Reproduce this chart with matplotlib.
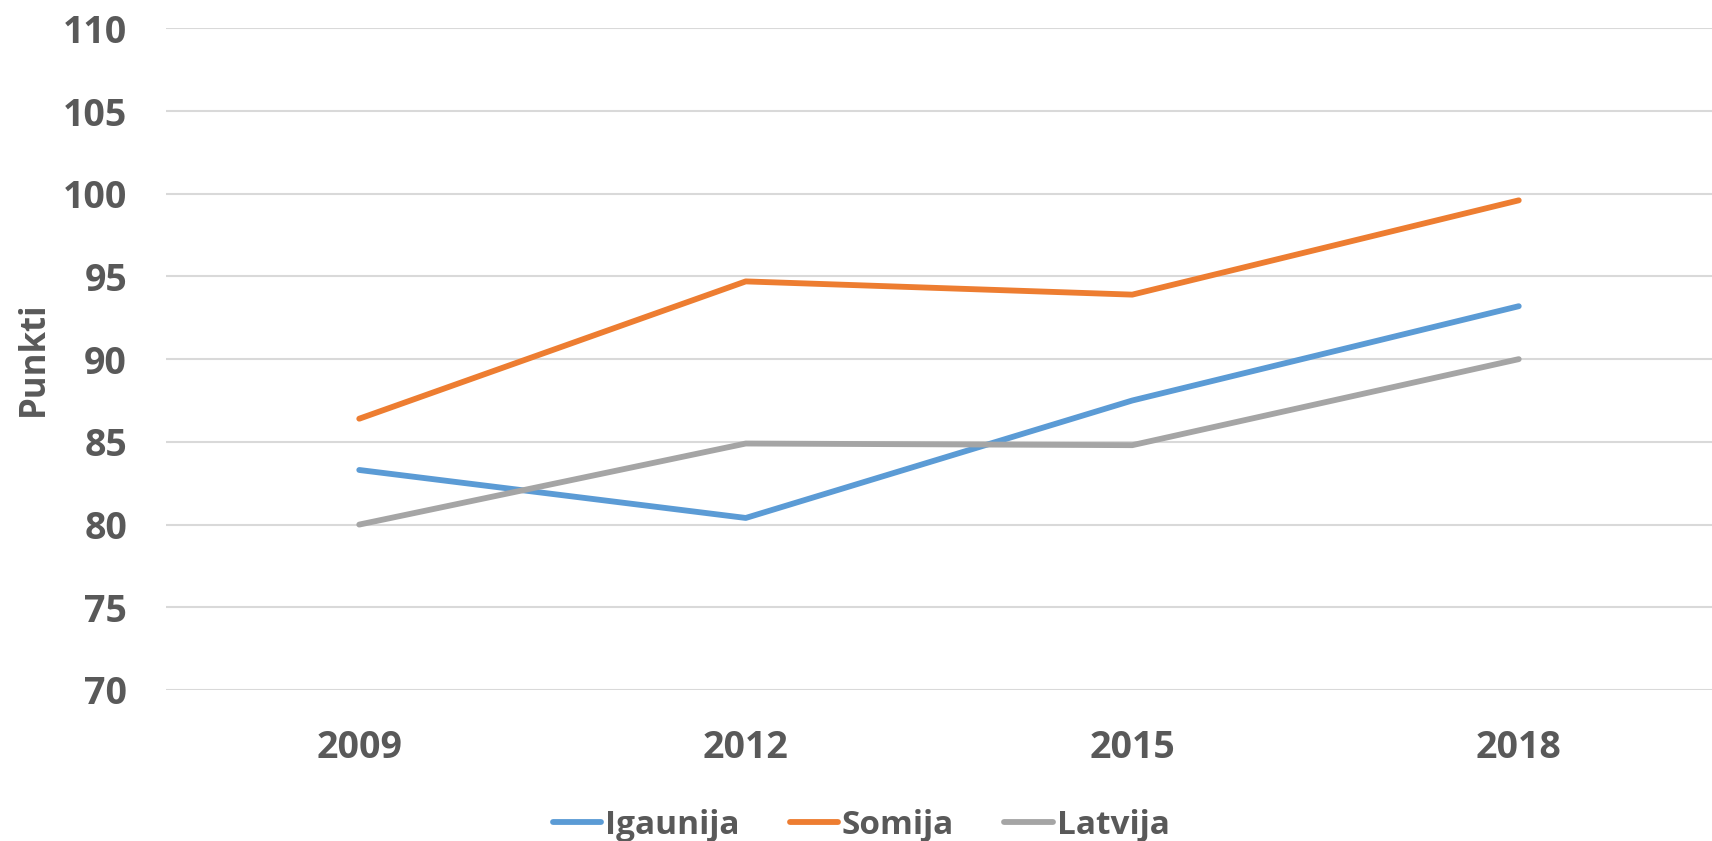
import matplotlib
matplotlib.use("Agg")
import matplotlib.pyplot as plt

years = ["2009", "2012", "2015", "2018"]
igaunija = [83.3, 80.4, 87.5, 93.2]
somija = [86.4, 94.7, 93.9, 99.6]
latvija = [80.0, 84.9, 84.8, 90.0]
series_names = ["Igaunija", "Somija", "Latvija"]
colors = ["#5B9BD5", "#ED7D31", "#A5A5A5"]
yticks = [70, 75, 80, 85, 90, 95, 100, 105, 110]

FONT = ["Open Sans", "DejaVu Sans"]
TXT = "#595959"

fig = plt.figure(figsize=(17.12, 8.41), dpi=100)
ax = fig.add_axes([166 / 1712, 1 - 690 / 841, 1 - 166 / 1712, (690 - 28.3) / 841])

x = list(range(len(years)))
for vals, name, c in zip([igaunija, somija, latvija], series_names, colors):
    ax.plot(x, vals, color=c, lw=4.2, label=name, solid_capstyle="round",
            solid_joinstyle="round", zorder=3)

ax.set_xlim(-0.5, 3.5)
ax.set_ylim(70, 110)
ax.set_yticks(yticks)
ax.set_xticks(x)
ax.set_xticklabels(years)
ax.grid(axis="y", color="#D9D9D9", lw=1.5, zorder=0)
for s in ax.spines.values():
    s.set_visible(False)
ax.tick_params(axis="both", length=0, labelcolor=TXT, labelsize=27)
ax.tick_params(axis="x", pad=28)
ax.tick_params(axis="y", pad=28)
for lab in ax.get_xticklabels() + ax.get_yticklabels():
    lab.set_fontweight("bold")
    lab.set_family(FONT)

ax.set_ylabel("Punkti", fontsize=25, fontweight="bold", color=TXT, family=FONT)
ax.yaxis.set_label_coords(-0.074, 0.5)

leg = fig.legend(loc="center", bbox_to_anchor=(0.503, 0.019), ncol=3, frameon=False,
                 prop={"family": FONT, "weight": "bold", "size": 24},
                 handlelength=1.45, handletextpad=0.12, columnspacing=1.5)
for t in leg.get_texts():
    t.set_color(TXT)
for h in leg.get_lines():
    h.set_linewidth(4.2)

fig.savefig("out.png", dpi=100)
